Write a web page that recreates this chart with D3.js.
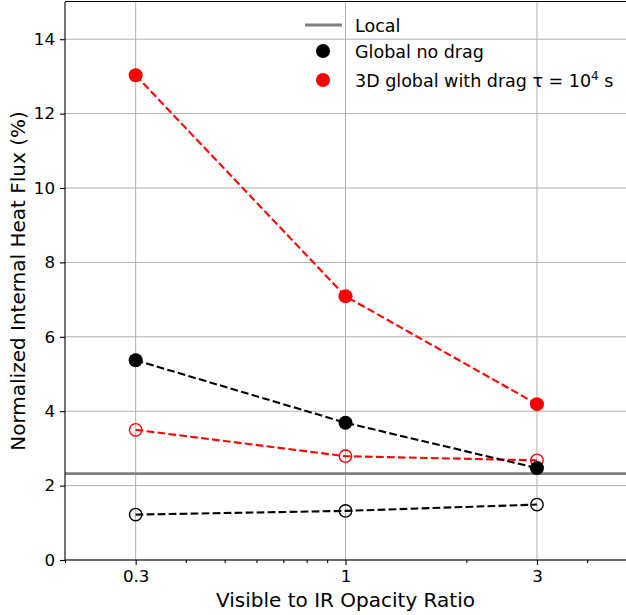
<!DOCTYPE html>
<html><head><meta charset="utf-8">
<script src="https://cdn.jsdelivr.net/npm/d3@7"></script>
<style>body{margin:0;background:#fff}svg{display:block}text{font-family:"DejaVu Sans",sans-serif}</style>
</head><body>
<svg id="c" width="626" height="615"></svg>
<script>
const ratios = [0.3, 1, 3];
const globalNoDragFilled = [5.37, 3.69, 2.47];
const globalNoDragOpen = [1.22, 1.32, 1.49];
const dragFilled = [13.03, 7.09, 4.19];
const dragOpen = [3.50, 2.79, 2.68];
const localValue = 2.32;
const xTicks = [0.3, 1, 3];
const xTickLabels = ["0.3", "1", "3"];
const xMinorTicks = [0.2, 0.4, 0.5, 0.6, 0.7, 0.8, 0.9, 2, 4, 5];
const yTicks = [0, 2, 4, 6, 8, 10, 12, 14];
const legendLabels = ["Local", "Global no drag", "3D global with drag"];

const svg = d3.select("#c");
const L = 65, R = 626, T = 2, B = 560;
const x = d3.scaleLog().domain([0.2, 5]).range([L, R]);
const y = d3.scaleLinear().domain([0, 15]).range([B, T]);

const grid = svg.append("g");
grid.selectAll(".gx").data(xTicks).enter().append("line")
  .attr("x1", d => x(d)).attr("x2", d => x(d)).attr("y1", T).attr("y2", B)
  .attr("stroke", "#b0b0b0").attr("stroke-width", 1);
grid.selectAll(".gy").data(yTicks).enter().append("line")
  .attr("x1", L).attr("x2", R).attr("y1", d => y(d)).attr("y2", d => y(d))
  .attr("stroke", "#b0b0b0").attr("stroke-width", 1);

// local line
svg.append("line").attr("x1", L).attr("x2", R).attr("y1", y(localValue)).attr("y2", y(localValue))
  .attr("stroke", "#808080").attr("stroke-width", 2.8);

function series(vals, color, filled) {
  const pts = ratios.map((r, i) => [x(r), y(vals[i])]);
  svg.append("path").attr("d", d3.line()(pts)).attr("fill", "none")
    .attr("stroke", color).attr("stroke-width", 2.1).attr("stroke-dasharray", "7.7,3.3");
  svg.append("g").selectAll("circle").data(pts).enter().append("circle")
    .attr("cx", d => d[0]).attr("cy", d => d[1])
    .attr("r", filled ? 7 : 6.2)
    .attr("fill", filled ? color : "none")
    .attr("stroke", color).attr("stroke-width", filled ? 0 : 1.4);
}
series(globalNoDragOpen, "#000", false);
series(dragOpen, "#ff0000", false);
series(globalNoDragFilled, "#000", true);
series(dragFilled, "#ff0000", true);

// axes
const xAxis = d3.axisBottom(x).tickValues(xTicks).tickFormat((d, i) => xTickLabels[i]).tickSize(5).tickPadding(5);
const gx = svg.append("g").attr("transform", `translate(0,${B})`).call(xAxis);
const gxm = svg.append("g").attr("transform", `translate(0,${B})`)
  .call(d3.axisBottom(x).tickValues(xMinorTicks).tickFormat("").tickSize(3));
gxm.select(".domain").remove();
const gy = svg.append("g").attr("transform", `translate(${L},0)`)
  .call(d3.axisLeft(y).tickValues(yTicks).tickSize(5).tickPadding(5));
[gx, gy, gxm].forEach(g => {
  g.selectAll("text").attr("font-size", 16.7).attr("fill", "#000").attr("font-family", "DejaVu Sans");
  g.selectAll("line").attr("stroke", "#000").attr("stroke-width", 1.1);
  g.select(".domain").attr("stroke", "#000").attr("stroke-width", 1.1);
});
gx.select(".domain").attr("d", `M${L},0H${R}`);
gy.select(".domain").attr("d", `M0,${B}V${T}`);
svg.append("line").attr("x1", L).attr("x2", R).attr("y1", T - 0.5).attr("y2", T - 0.5)
  .attr("stroke", "#000").attr("stroke-width", 1.1);

svg.append("text").attr("x", (L + R) / 2).attr("y", 607).attr("text-anchor", "middle")
  .attr("font-size", 20).text("Visible to IR Opacity Ratio");
svg.append("text").attr("transform", `translate(25,${(T + B) / 2}) rotate(-90)`).attr("text-anchor", "middle")
  .attr("font-size", 20).text("Normalized Internal Heat Flux (%)");

// legend
const lg = svg.append("g");
lg.append("line").attr("x1", 305).attr("x2", 342).attr("y1", 25).attr("y2", 25)
  .attr("stroke", "#808080").attr("stroke-width", 2.8);
lg.append("circle").attr("cx", 323).attr("cy", 51).attr("r", 7).attr("fill", "#000");
lg.append("circle").attr("cx", 323).attr("cy", 80).attr("r", 7).attr("fill", "#ff0000");
const ly = [25, 51, 80];
legendLabels.forEach((t, i) => {
  const tx = lg.append("text").attr("x", 355).attr("y", ly[i] + 6.5).attr("font-size", 17.5).text(t);
  if (i === 2) {
    tx.append("tspan").text(" τ = 10");
    tx.append("tspan").attr("font-size", 12).attr("dy", -7).text("4");
    tx.append("tspan").attr("dy", 7).text(" s");
  }
});
</script>
</body></html>
